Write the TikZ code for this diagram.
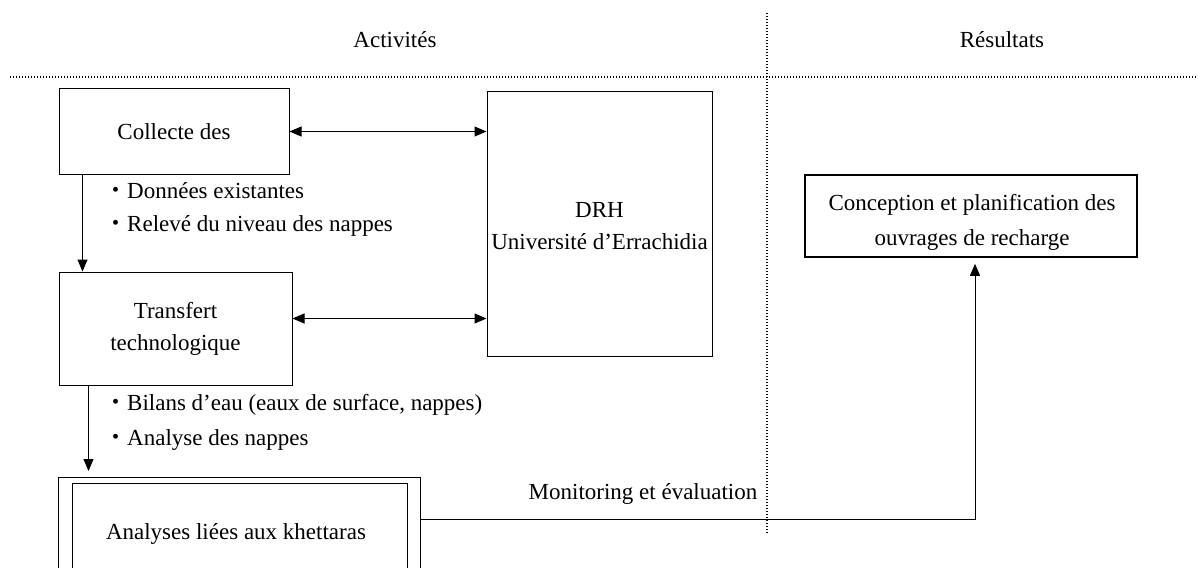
\documentclass[tikz,border=0pt]{standalone}
\usepackage{fontspec}
\setmainfont{Liberation Serif}
\newfontfamily\cjk{Noto Sans CJK JP}
\usetikzlibrary{arrows.meta}

\begin{document}
\begin{tikzpicture}[x=1pt,y=-1pt,
  every node/.style={font=\fontsize{23}{32}\selectfont, inner sep=0pt},
  box/.style={draw, line width=1pt, align=center},
  link/.style={line width=1pt, -{Triangle[length=12pt,width=10pt]}},
  both/.style={line width=1pt, {Triangle[length=12pt,width=10pt]}-{Triangle[length=12pt,width=10pt]}},
  sep/.style={line width=1.2pt, dash pattern=on 1.2pt off 1.8pt},
  txt/.style={align=left, anchor=west}]
\useasboundingbox (0,0) rectangle (1198,567);
\clip (0,0) rectangle (1198,567);

% column separators and headings
\draw[sep] (10,77) -- (1198,77);
\draw[sep] (767,13) -- (767,533);
\node (act) at (395,40) {Activités};
\node (res) at (1002,40) {Résultats};

% activity boxes
\node[box, minimum width=230pt, minimum height=85pt] (col) at (174,131.5) {Collecte des};
\node[box, minimum width=225pt, minimum height=264pt] (drh) at (599.5,224) {};
\node[align=center] (drhtext) at (599.5,226) {DRH\\Université d’Errachidia};
\node[box, minimum width=233pt, minimum height=113pt] (tra) at (175.5,328.5) {Transfert\\technologique};
\node[box, minimum width=362pt, minimum height=123pt, anchor=north west] (anaout) at (58,477) {};
\node[box, minimum width=335pt, minimum height=117pt, anchor=north west] (anain) at (72,483) {};
\node (ana) at (236,534) {Analyses liées aux khettaras};

% result box
\node[box, line width=1.6pt, minimum width=332pt, minimum height=82pt] (con) at (971,216) {};
\node[align=center, font=\fontsize{23}{35}\selectfont] (context) at (972,222) {Conception et planification des\\ouvrages de recharge};

% bullet lists
\node[txt] (b1) at (104,191) {{\cjk ・}Données existantes};
\node[txt] (b2) at (104,226) {{\cjk ・}Relevé du niveau des nappes};
\node[txt] (b3) at (104,405) {{\cjk ・}Bilans d’eau (eaux de surface, nappes)};
\node[txt] (b4) at (104,440) {{\cjk ・}Analyse des nappes};

% exchanges with DRH
\draw[both] (col.east) -- (col.east -| drh.west);
\coordinate (t1) at ([yshift=10pt]tra.east);
\draw[both] (t1) -- (t1 -| drh.west);

% flow between activities
\coordinate (c1) at ([xshift=24pt]col.south west);
\draw[link] (c1) -- (c1 |- tra.north);
\coordinate (c2) at ([xshift=30pt]tra.south west);
\draw[link, shorten >=6pt] (c2) -- (c2 |- anaout.north);

% monitoring towards results
\coordinate (m1) at (420,519);
\coordinate (m2) at ([xshift=4pt]con.south);
\draw[link, shorten >=6pt] (m1) -| (m2);
\node (mon) at (643,494) {Monitoring et évaluation};
\end{tikzpicture}
\end{document}
